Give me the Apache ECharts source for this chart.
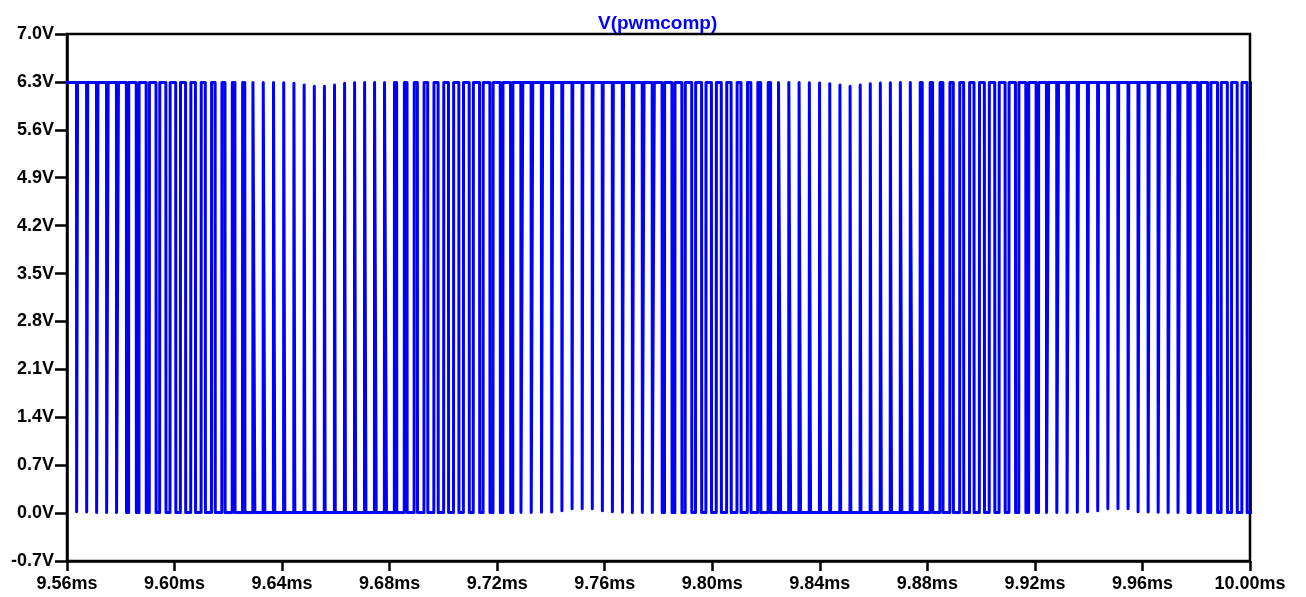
<!DOCTYPE html>
<html>
<head>
<meta charset="utf-8">
<title>V(pwmcomp)</title>
<script src="https://cdn.jsdelivr.net/npm/echarts@6/dist/echarts.min.js"></script>
<style>
  html, body { margin: 0; padding: 0; background: #ffffff; }
  #chart { width: 1306px; height: 597px; }
</style>
</head>
<body>
<div id="chart"></div>
<script>
// Trace name and axis ranges
const traceName = 'V(pwmcomp)';
const timeRangeMs = [9.56, 10.00];
const timeStepMs = 0.04;
const voltRange = [-0.7, 7.0];
const voltStep = 0.7;

// Comparator output levels (V)
const highLevelV = 6.29;
const lowLevelV = 0.01;

// Switching grid: centre of the first low interval and the carrier period (ms)
const firstDipCenterMs = 9.5637;
const switchPeriodMs = 0.00376;

// Fraction of each switching period spent high, one entry per period
const dutyCycle = [
  0.91, 0.90, 0.87, 0.85, 0.81, 0.78, 0.73, 0.69, 0.64, 0.59,
  0.54, 0.49, 0.44, 0.39, 0.34, 0.29, 0.25, 0.21, 0.17, 0.14,
  0.12, 0.10, 0.08, 0.07, 0.07, 0.07, 0.08, 0.10, 0.12, 0.15,
  0.18, 0.21, 0.25, 0.30, 0.35, 0.39, 0.45, 0.50, 0.55, 0.60,
  0.65, 0.69, 0.74, 0.78, 0.82, 0.85, 0.88, 0.90, 0.92, 0.93,
  0.93, 0.93, 0.92, 0.91, 0.89, 0.86, 0.83, 0.80, 0.76, 0.71,
  0.67, 0.62, 0.57, 0.52, 0.47, 0.42, 0.37, 0.32, 0.27, 0.23,
  0.19, 0.16, 0.13, 0.11, 0.09, 0.08, 0.07, 0.07, 0.08, 0.09,
  0.11, 0.13, 0.16, 0.20, 0.23, 0.28, 0.32, 0.37, 0.42, 0.47,
  0.52, 0.57, 0.62, 0.67, 0.72, 0.76, 0.80, 0.83, 0.86, 0.89,
  0.91, 0.92, 0.93, 0.93, 0.93, 0.91, 0.90, 0.88, 0.85, 0.81,
  0.78, 0.74, 0.69, 0.64, 0.59, 0.54, 0.49
];

// Build the rectangular waveform: each period has one low interval centred on
// the switching grid; very short pulses don't quite reach the rail.
function buildWaveform() {
  const tau = 0.000045;   // settling constant of the output stage (ms)
  const edge = 0.00005;   // transition time (ms)
  const swing = highLevelV - lowLevelV;
  const falls = [], rises = [];
  dutyCycle.forEach((d, k) => {
    const c = firstDipCenterMs + k * switchPeriodMs;
    const lowWidth = (1 - d) * switchPeriodMs;
    falls.push(c - lowWidth / 2);
    rises.push(c + lowWidth / 2);
  });
  const pts = [[timeRangeMs[0] - 0.005, highLevelV]];
  for (let k = 0; k < dutyCycle.length; k++) {
    const highWidth = k === 0 ? Infinity : falls[k] - (rises[k - 1] + edge);
    const hLevel = lowLevelV + swing * (1 - Math.exp(-highWidth / tau));
    const lowWidth = rises[k] - (falls[k] + edge);
    const lLevel = highLevelV - swing * (1 - Math.exp(-lowWidth / tau));
    if (k > 0) pts.push([rises[k - 1] + edge, hLevel]);
    pts.push([falls[k], hLevel]);
    pts.push([falls[k] + edge, lLevel]);
    pts.push([rises[k], lLevel]);
  }
  const last = rises[rises.length - 1];
  pts.push([last + edge, highLevelV]);
  pts.push([timeRangeMs[1] + 0.005, highLevelV]);
  return pts;
}

const chart = echarts.init(document.getElementById('chart'), null, { renderer: 'canvas' });
const labelFont = { color: '#000000', fontFamily: 'Liberation Sans, Arial, sans-serif', fontWeight: 'bold' };

chart.setOption({
  animation: false,
  backgroundColor: '#ffffff',
  title: {
    text: traceName,
    left: 593,
    top: 9,
    textStyle: { color: '#0000ff', fontFamily: 'Liberation Sans, Arial, sans-serif', fontWeight: 'bold', fontSize: 19 }
  },
  grid: {
    left: 67, right: 56, top: 34, bottom: 36,
    show: true, borderColor: '#000000', borderWidth: 2.5, backgroundColor: 'transparent'
  },
  xAxis: {
    type: 'value',
    min: timeRangeMs[0],
    max: timeRangeMs[1],
    interval: timeStepMs,
    axisLine: { show: true, onZero: false, lineStyle: { color: '#000000', width: 2.5 } },
    axisTick: { show: true, inside: false, length: 10, lineStyle: { color: '#000000', width: 2.5 } },
    splitLine: { show: false },
    axisLabel: Object.assign({ fontSize: 18, margin: 14, formatter: v => v.toFixed(2) + 'ms', showMinLabel: true, showMaxLabel: true }, labelFont)
  },
  yAxis: {
    type: 'value',
    min: voltRange[0],
    max: voltRange[1],
    interval: voltStep,
    axisLine: { show: true, onZero: false, lineStyle: { color: '#000000', width: 2.5 } },
    axisTick: { show: true, inside: false, length: 12, lineStyle: { color: '#000000', width: 2.5 } },
    splitLine: { show: false },
    axisLabel: Object.assign({ fontSize: 18, margin: 13, formatter: v => (Math.abs(v) < 1e-9 ? 0 : v).toFixed(1) + 'V', showMinLabel: true, showMaxLabel: true }, labelFont)
  },
  series: [{
    name: traceName,
    type: 'line',
    data: buildWaveform(),
    showSymbol: false,
    symbol: 'none',
    sampling: null,
    clip: true,
    lineStyle: { color: '#0000ff', width: 3, join: 'round', cap: 'round' }
  }]
});
</script>
</body>
</html>
